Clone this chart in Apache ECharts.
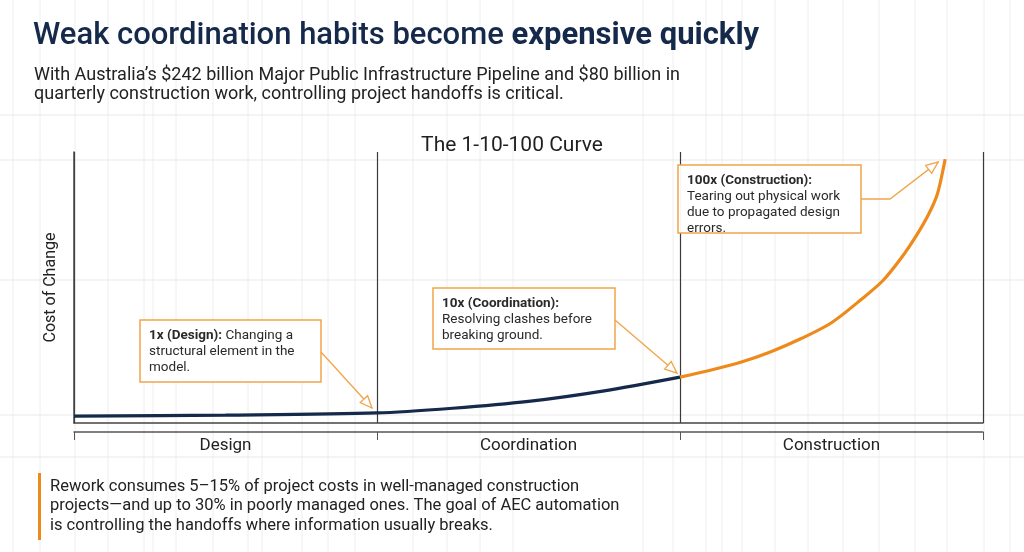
<!DOCTYPE html>
<html>
<head>
<meta charset="utf-8">
<script src="https://cdn.jsdelivr.net/npm/echarts@6/dist/echarts.min.js"></script>
<style>
    html, body { margin: 0; padding: 0; background: #ffffff; }
    #chart { width: 1024px; height: 552px; }
</style>
</head>
<body>
<div id="chart"></div>
<script>
    /**
     * data
     */
    var stageLabels = ['Design', 'Coordination', 'Construction'];
    // x = stage position (0..3), y = relative cost of change
    var earlyX = [0, 0.5, 1, 1.25, 1.5, 1.75, 2];
    var earlyY = [2.6, 3.0, 3.8, 5.6, 8.2, 12.2, 17.4];
    var lateX = [2, 2.1, 2.2, 2.3, 2.4, 2.5, 2.6, 2.67, 2.73, 2.78, 2.82, 2.85, 2.875];
    var lateY = [17.4, 20, 23, 27, 32, 38, 47, 54, 62.5, 71, 79, 87, 100];
    var yMax = 102.7;

    var FONT = 'Roboto, "Noto Sans", sans-serif';
    var NAVY = '#15294a';
    var ORANGE = '#ee8a1c';
    var BOX_ORANGE = '#f0a548';

    function pairs(xs, ys) {
        var out = [];
        for (var i = 0; i < xs.length; i++) {
            out.push([xs[i], ys[i]]);
        }
        return out;
    }

    var chart = echarts.init(document.getElementById('chart'), null, {renderer: 'canvas'});

    // faint graph paper behind everything
    var paper = [];
    var vLines = [13, 40, 75, 108, 144, 153, 176, 213, 248, 262, 302, 328, 355, 413, 447, 480, 513, 643, 673, 706, 722, 742, 775, 808, 843, 879, 915, 947, 984, 1010];
    var hLines = [115, 160, 280, 415, 457];
    for (var i = 0; i < vLines.length; i++) {
        paper.push({type: 'line', z: -10, silent: true,
            shape: {x1: vLines[i], y1: 0, x2: vLines[i], y2: 552},
            style: {stroke: '#eeeeee', lineWidth: 1}});
    }
    for (var j = 0; j < hLines.length; j++) {
        paper.push({type: 'line', z: -10, silent: true,
            shape: {x1: 0, y1: hLines[j], x2: 1024, y2: hLines[j]},
            style: {stroke: '#e9e9e9', lineWidth: 1}});
    }

    var option = {
        backgroundColor: '#ffffff',
        animation: false,
        title: [
            {
                text: '{r|Weak coordination habits become }{b|expensive quickly}',
                left: 28, top: 16,
                textStyle: {
                    rich: {
                        r: {fontFamily: FONT, fontSize: 31, color: NAVY, fontWeight: 500},
                        b: {fontFamily: FONT, fontSize: 31, color: NAVY, fontWeight: 'bold'}
                    }
                }
            },
            {
                text: 'With Australia\u2019s $242 billion Major Public Infrastructure Pipeline and $80 billion in\nquarterly construction work, controlling project handoffs is critical.',
                left: 29, top: 61,
                textStyle: {fontFamily: FONT, fontSize: 18, color: '#222222', fontWeight: 'normal', lineHeight: 19}
            },
            {
                text: 'The 1-10-100 Curve',
                left: 'center', top: 130,
                textStyle: {fontFamily: FONT, fontSize: 21, color: '#1f1f1f', fontWeight: 'normal'}
            }
        ],
        grid: {left: 74, right: 41, top: 152, bottom: 129, containLabel: false},
        xAxis: [
            {
                type: 'value', min: 0, max: 3, interval: 1,
                axisLine: {show: true, lineStyle: {color: '#444444', width: 1.5}},
                axisTick: {show: false},
                axisLabel: {show: false},
                splitLine: {show: true, lineStyle: {color: '#3a3a3a', width: 1.2}}
            },
            {
                type: 'category', position: 'bottom', offset: 9,
                data: stageLabels,
                axisLine: {show: true, lineStyle: {color: '#555555', width: 1.5}},
                axisTick: {show: true, length: 8, lineStyle: {color: '#555555', width: 1}},
                axisLabel: {fontFamily: FONT, fontSize: 17, color: '#222222', margin: 5},
                splitLine: {show: false}
            }
        ],
        yAxis: {
            type: 'value', min: 0, max: yMax, offset: 8,
            name: 'Cost of Change', nameLocation: 'middle', nameGap: 7,
            nameTextStyle: {fontFamily: FONT, fontSize: 16, color: '#222222'},
            axisLine: {show: true, lineStyle: {color: '#444444', width: 1.5}},
            axisTick: {show: false},
            axisLabel: {show: false},
            splitLine: {show: false}
        },
        series: [
            {
                name: 'early', type: 'line', xAxisIndex: 0,
                data: pairs(earlyX, earlyY),
                smooth: 0.3, showSymbol: false, z: 3,
                lineStyle: {color: NAVY, width: 3.2}
            },
            {
                name: 'late', type: 'line', xAxisIndex: 0,
                data: pairs(lateX, lateY),
                smooth: 0.3, showSymbol: false, z: 4,
                lineStyle: {color: ORANGE, width: 3.2}
            }
        ],
        graphic: paper
    };
    chart.setOption(option);

    /**
     * callouts and arrows
     */
    function arrowHead(tip, from) {
        var dx = tip[0] - from[0], dy = tip[1] - from[1];
        var len = Math.sqrt(dx * dx + dy * dy);
        var ux = dx / len, uy = dy / len;
        var bx = tip[0] - ux * 12, by = tip[1] - uy * 12;
        return {
            type: 'polygon', z: 20, silent: true,
            shape: {points: [tip, [bx - uy * 5, by + ux * 5], [bx + uy * 5, by - ux * 5]]},
            style: {fill: '#ffffff', stroke: BOX_ORANGE, lineWidth: 1.3}
        };
    }

    function callout(box, text, path) {
        var items = [];
        items.push({type: 'rect', z: 15, silent: true,
            shape: {x: box[0], y: box[1], width: box[2], height: box[3]},
            style: {fill: 'rgba(255,255,255,0.95)', stroke: BOX_ORANGE, lineWidth: 1.5}});
        items.push({type: 'text', z: 16, silent: true, x: box[0] + 9, y: box[1] + 8,
            style: {
                text: text, fontFamily: FONT, fontSize: 13.5, lineHeight: 16, fill: '#2a2a2a',
                rich: {
                    b: {fontFamily: FONT, fontSize: 13.5, fontWeight: 'bold', fill: '#2a2a2a', lineHeight: 16}
                }
            }});
        items.push({type: 'polyline', z: 19, silent: true,
            shape: {points: path},
            style: {stroke: BOX_ORANGE, lineWidth: 1.3, fill: null}});
        items.push(arrowHead(path[path.length - 1], path[path.length - 2]));
        return items;
    }

    var pDesign = chart.convertToPixel({xAxisIndex: 0, yAxisIndex: 0}, [earlyX[2], earlyY[2]]);
    var pCoord = chart.convertToPixel({xAxisIndex: 0, yAxisIndex: 0}, [earlyX[earlyX.length - 1], earlyY[earlyY.length - 1]]);
    var pBuild = chart.convertToPixel({xAxisIndex: 0, yAxisIndex: 0}, [lateX[lateX.length - 1], lateY[lateY.length - 1]]);

    var extra = paper.slice();
    extra = extra.concat(callout([140, 320, 181, 62],
        '{b|1x (Design):} Changing a\nstructural element in the\nmodel.',
        [[321, 352], [pDesign[0] - 5, pDesign[1] - 5]]));
    extra = extra.concat(callout([433, 288, 182, 61],
        '{b|10x (Coordination):}\nResolving clashes before\nbreaking ground.',
        [[615, 320], [pCoord[0] - 3, pCoord[1] - 4]]));
    extra = extra.concat(callout([678, 165, 183, 68],
        '{b|100x (Construction):}\nTearing out physical work\ndue to propagated design\nerrors.',
        [[861, 199], [890, 199], [pBuild[0] - 7, pBuild[1] + 3]]));

    // closing note
    extra.push({type: 'rect', z: 5, silent: true,
        shape: {x: 38, y: 473, width: 3, height: 67},
        style: {fill: ORANGE}});
    extra.push({type: 'text', z: 5, silent: true, x: 50, y: 477,
        style: {
            text: 'Rework consumes 5\u201315% of project costs in well-managed construction\nprojects\u2014and up to 30% in poorly managed ones. The goal of AEC automation\nis controlling the handoffs where information usually breaks.',
            fontFamily: FONT, fontSize: 16.5, lineHeight: 19.5, fill: '#222222'
        }});

    chart.setOption({graphic: extra}, {replaceMerge: ['graphic']});
</script>
</body>
</html>
